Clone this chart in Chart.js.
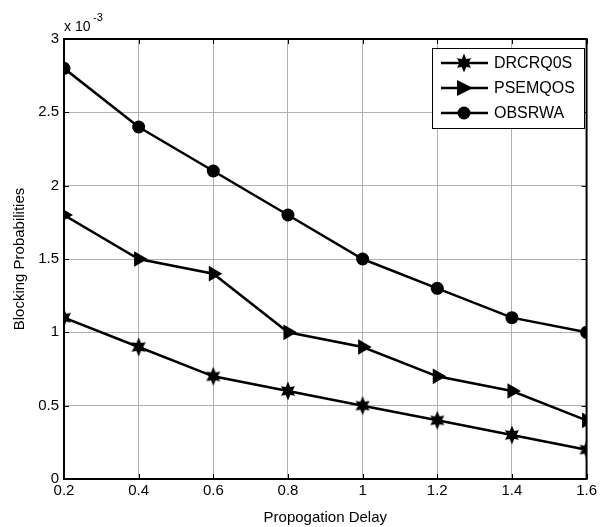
<!DOCTYPE html>
<html>
<head>
<meta charset="utf-8">
<script src="https://cdn.jsdelivr.net/npm/chart.js@4.4.0/dist/chart.umd.min.js"></script>
<style>
  body { margin: 0; background: #fff; }
  #wrap { width: 600px; height: 527px; }
</style>
</head>
<body>
<div id="wrap"><canvas id="myChart" width="600" height="527"></canvas></div>
<script>
var delays = [0.2, 0.4, 0.6, 0.8, 1.0, 1.2, 1.4, 1.6];
var drcrqos = [1.1, 0.9, 0.7, 0.6, 0.5, 0.4, 0.3, 0.2];
var psemqos = [1.8, 1.5, 1.4, 1.0, 0.9, 0.7, 0.6, 0.4];
var obsrwa = [2.8, 2.4, 2.1, 1.8, 1.5, 1.3, 1.1, 1.0];
var seriesNames = ['DRCRQ0S', 'PSEMQOS', 'OBSRWA'];

function pts(ys) {
  return delays.map(function (x, i) { return {x: x, y: ys[i]}; });
}

// hexagram marker like matlab 'h'
function makeStar() {
  var c = document.createElement('canvas');
  c.width = 20; c.height = 20;
  var g = c.getContext('2d');
  g.fillStyle = '#000';
  g.beginPath();
  for (var i = 0; i < 12; i++) {
    var r = i % 2 === 0 ? 9.5 : 4.5;
    var a = -Math.PI / 2 + i * Math.PI / 6;
    var px = 10 + r * Math.cos(a) * (i % 2 === 0 ? 0.85 : 1);
    var py = 10 + r * Math.sin(a);
    if (i === 0) g.moveTo(px, py); else g.lineTo(px, py);
  }
  g.closePath();
  g.fill();
  return c;
}
var starImg = makeStar();

var font = 'Liberation Sans, Arial, sans-serif';

var boxPlugin = {
  id: 'boxPlugin',
  afterDraw: function (chart) {
    var ca = chart.chartArea, g = chart.ctx;
    var xs = chart.scales.x, ys = chart.scales.y;
    g.save();
    // inward ticks on all four sides
    g.strokeStyle = '#000';
    g.lineWidth = 1;
    g.beginPath();
    xs.ticks.forEach(function (t) {
      var px = Math.round(xs.getPixelForValue(t.value)) + 0.5;
      g.moveTo(px, ca.bottom); g.lineTo(px, ca.bottom - 5);
      g.moveTo(px, ca.top); g.lineTo(px, ca.top + 5);
    });
    ys.ticks.forEach(function (t) {
      var py = Math.round(ys.getPixelForValue(t.value)) + 0.5;
      g.moveTo(ca.left, py); g.lineTo(ca.left + 5, py);
      g.moveTo(ca.right, py); g.lineTo(ca.right - 5, py);
    });
    g.stroke();
    g.lineWidth = 2;
    g.strokeRect(ca.left, ca.top, ca.right - ca.left, ca.bottom - ca.top);
    // exponent label
    g.fillStyle = '#000';
    g.font = '14px ' + font;
    g.textBaseline = 'alphabetic';
    g.fillText('x 10', 64, 31);
    g.font = '11px ' + font;
    g.fillText('-3', 93, 21);

    // legend
    var lx = 432, ly = 48, lw = 152, lh = 80;
    g.fillStyle = '#fff';
    g.fillRect(lx, ly, lw, lh);
    g.strokeStyle = '#000';
    g.lineWidth = 1;
    g.strokeRect(lx + 0.5, ly + 0.5, lw, lh);
    chart.data.datasets.forEach(function (ds, i) {
      var y = 63 + i * 25;
      g.strokeStyle = '#000';
      g.lineWidth = 2.5;
      g.beginPath();
      g.moveTo(441, y); g.lineTo(488, y);
      g.stroke();
      g.fillStyle = '#000';
      if (i === 0) {
        g.drawImage(starImg, 464 - 10, y - 10);
      } else if (i === 1) {
        g.beginPath();
        g.moveTo(473, y); g.lineTo(457, y - 8); g.lineTo(457, y + 8);
        g.closePath(); g.fill();
      } else {
        g.beginPath();
        g.arc(464, y, 6.5, 0, Math.PI * 2);
        g.fill();
      }
      g.font = '16px ' + font;
      g.textBaseline = 'middle';
      g.fillText(ds.label, 494, y + 1);
    });
    g.restore();
  }
};

var ctx = document.getElementById('myChart').getContext('2d');
var myChart = new Chart(ctx, {
  type: 'scatter',
  data: {
    datasets: [{
      label: seriesNames[0],
      data: pts(drcrqos),
      showLine: true,
      borderColor: '#000',
      backgroundColor: '#000',
      borderWidth: 2.5,
      pointStyle: starImg
    }, {
      label: seriesNames[1],
      data: pts(psemqos),
      showLine: true,
      borderColor: '#000',
      backgroundColor: '#000',
      borderWidth: 2.5,
      pointStyle: 'triangle',
      rotation: 90,
      pointRadius: 9,
      pointBorderWidth: 0
    }, {
      label: seriesNames[2],
      data: pts(obsrwa),
      showLine: true,
      borderColor: '#000',
      backgroundColor: '#000',
      borderWidth: 2.5,
      pointStyle: 'circle',
      pointRadius: 6.5,
      pointBorderWidth: 0
    }]
  },
  options: {
    responsive: false,
    animation: false,
    layout: { padding: { left: 0, top: 39, right: 12, bottom: 0 } },
    plugins: { legend: { display: false }, tooltip: { enabled: false } },
    scales: {
      x: {
        min: 0.2, max: 1.6,
        afterFit: function (s) { s.height = 48; },
        ticks: {
          stepSize: 0.2,
          color: '#000',
          font: { family: font, size: 15 },
          padding: 3,
          callback: function (v) { return String(Math.round(v * 10) / 10); }
        },
        grid: { color: '#b0b0b0', lineWidth: 1, drawTicks: false },
        border: { display: false },
        title: {
          display: true,
          text: 'Propogation Delay',
          color: '#000',
          font: { family: font, size: 15 },
          padding: { top: 3, bottom: 0 }
        }
      },
      y: {
        min: 0, max: 3,
        afterFit: function (s) { s.width = 64; },
        ticks: {
          stepSize: 0.5,
          color: '#000',
          font: { family: font, size: 15 },
          padding: 5,
          callback: function (v) { return String(Math.round(v * 10) / 10); }
        },
        grid: { color: '#b0b0b0', lineWidth: 1, drawTicks: false },
        border: { display: false },
        title: {
          display: true,
          text: 'Blocking Probabilities',
          color: '#000',
          font: { family: font, size: 15 },
          padding: { top: 11, bottom: 0 }
        }
      }
    }
  },
  plugins: [boxPlugin]
});
</script>
</body>
</html>
